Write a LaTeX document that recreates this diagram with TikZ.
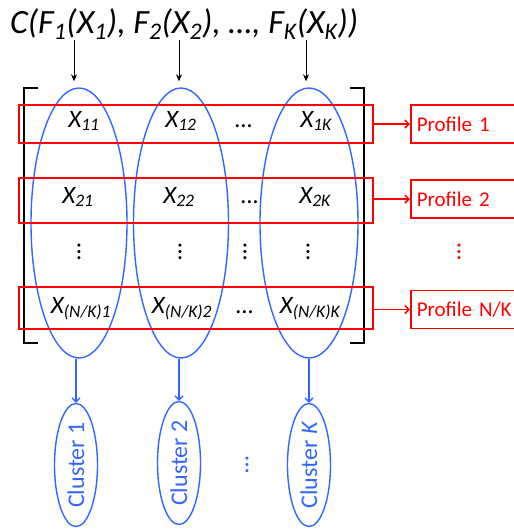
\documentclass[tikz,border=0pt]{standalone}
\usepackage{fontspec}
\setmainfont{Carlito}
\usepackage{graphicx}
\usetikzlibrary{arrows.meta,shapes.geometric}
\definecolor{ink}{HTML}{000000}
\definecolor{clus}{HTML}{3366FF}
\definecolor{prof}{HTML}{FF0000}

\begin{document}
\begin{tikzpicture}[
  x=1pt, y=-1pt,
  ent/.style={font=\fontsize{25}{28}\selectfont\itshape, inner sep=0pt, anchor=base},
  dts/.style={font=\fontsize{25}{28}\selectfont, inner sep=0pt},
  col/.style={ellipse, draw=clus, line width=1.4pt, minimum width=#1,
              minimum height=270pt, inner sep=0pt},
  row/.style={draw=prof, line width=1.7pt, minimum width=354pt,
              minimum height=#1, inner sep=0pt},
  prf/.style={draw=prof, line width=1.5pt, text=prof, anchor=west, align=left,
              inner xsep=6pt, inner ysep=0pt, text width=96pt, minimum height=38pt,
              font=\fontsize{21}{24}\selectfont},
  clu/.style={ellipse, draw=clus, line width=1.4pt, text=clus, inner sep=0pt,
              minimum width=43pt, minimum height=123pt,
              font=\fontsize{24}{28}\selectfont},
  ar/.style={-{Stealth[length=7pt,width=6pt]}, draw=ink, line width=1pt},
  arr/.style={-{Straight Barb[length=4pt,width=8pt]}, draw=prof, line width=1.5pt},
  arb/.style={-{Straight Barb[length=4pt,width=8pt]}, draw=clus, line width=1.3pt},
  brk/.style={draw=ink, line width=2pt},
]
\useasboundingbox (0,0) rectangle (514,531);

%% ================= the copula =================
\node[anchor=base west, inner sep=0pt, font=\fontsize{34}{38}\selectfont\itshape] (cop) at (10,33)
  {C(F\textsubscript{1}(X\textsubscript{1}), F\textsubscript{2}(X\textsubscript{2}), …, F\textsubscript{K}(X\textsubscript{K}))};
\coordinate (f1) at (74,40);
\coordinate (f2) at (179,40);
\coordinate (fK) at (306,40);

%% ================= the data matrix =================
\draw[brk] (38,88) -| (24,343) -- (38,343);
\draw[brk] (350,88) -| (364,343) -- (350,343);

\node[col=96pt] (c1) at (79,223) {};
\node[col=95pt] (c2) at (181,223) {};
\node[col=98pt] (cK) at (309,223) {};

\node[row=38pt] (r1) at (196,124) {};
\node[row=45pt] (r2) at (196,200.5) {};
\node[row=42pt] (rN) at (196,308) {};

\node[ent] (x11) at (84,127) {X\textsubscript{11}};
\node[ent] (x12) at (181,127) {X\textsubscript{12}};
\node[ent] (x1d) at (244,127) {…};
\node[ent] (x1K) at (316,127) {X\textsubscript{1K}};

\node[ent] (x21) at (78,203) {X\textsubscript{21}};
\node[ent] (x22) at (179,203) {X\textsubscript{22}};
\node[ent] (x2d) at (250,203) {…};
\node[ent] (x2K) at (315,203) {X\textsubscript{2K}};

\foreach \n/\x in {v1/79, v2/180, vd/245, vK/308}
  \node[dts] (\n) at (\x,252) {\rotatebox{90}{…}};

\node[ent] (xN1) at (81,313) {X\textsubscript{(N/K)1}};
\node[ent] (xN2) at (182,313) {X\textsubscript{(N/K)2}};
\node[ent] (xNd) at (245,313) {…};
\node[ent] (xNK) at (310,313) {X\textsubscript{(N/K)K}};

\foreach \f/\c in {f1/c1, f2/c2, fK/cK}
  \draw[ar, shorten >=6pt] (\f) -- (\f |- \c.north);

%% ================= profiles =================
\node[prf] (p1) at (410,124) {Profile 1};
\node[prf] (p2) at (410,199) {Profile 2};
\node[dts, text=prof] (pd) at (459,252) {\rotatebox{90}{…}};
\node[prf] (pN) at (410,309.5) {Profile N/K};

\foreach \r/\p in {r1/p1, r2/p2, rN/pN}
  \draw[arr] (\r.east |- \p.west) -- (\p.west);

%% ================= clusters =================
\node[clu] (k1) at (76,465) {\rotatebox{90}{Cluster 1}};
\node[clu] (k2) at (179,463) {\rotatebox{90}{Cluster 2}};
\node[dts, text=clus, rotate=90] (kd) at (247,465) {…};
\node[clu] (kK) at (309,465) {\rotatebox{90}{Cluster \textit{K}}};

\foreach \c/\k in {c1/k1, c2/k2, cK/kK}
  \draw[arb] (\k.north |- \c.south) -- (\k.north);

\end{tikzpicture}
\end{document}
